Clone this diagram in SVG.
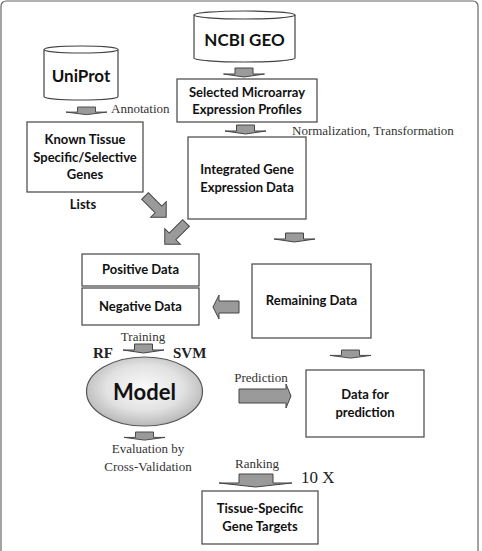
<svg xmlns="http://www.w3.org/2000/svg" width="482" height="551" viewBox="0 0 482 551">
<style>
.box{fill:#fff;stroke:#444;stroke-width:1.2}
.cyl{fill:#fff;stroke:#444;stroke-width:1.2}
.bt{font-family:Lato,"Liberation Sans",sans-serif;font-weight:bold;font-size:13px;fill:#111;text-anchor:middle}
.sl{font-family:"Liberation Serif",serif;font-size:13px;fill:#333}
.arr{fill:#9a9a9a;stroke:#444;stroke-width:1}
</style>
<defs>
<path id="dn" d="M-9,0 H9 V6 H20.5 L0,9 L-20.5,6 H-9 Z"/>
<radialGradient id="mg" cx="50%" cy="45%" r="55%">
<stop offset="0" stop-color="#fafafa"/>
<stop offset="0.6" stop-color="#e2e2e2"/>
<stop offset="1" stop-color="#b8b8b8"/>
</radialGradient>
</defs>
<rect x="1" y="1" width="477" height="570" rx="5" fill="#fff" stroke="#666" stroke-width="1.2"/>

<g id="ncbi">
<path class="cyl" d="M194,15 V58 A50.5,4 0 0 0 295,58 V15"/>
<ellipse class="cyl" cx="244.5" cy="15" rx="50.5" ry="4"/>
<text class="bt" x="244.5" y="46" style="font-size:17px">NCBI GEO</text>
</g>
<g id="uniprot">
<path class="cyl" d="M44,49.5 V96.5 A37,3.5 0 0 0 118,96.5 V49.5"/>
<ellipse class="cyl" cx="81" cy="49.5" rx="37" ry="3.5"/>
<text class="bt" x="81" y="82" style="font-size:17px">UniProt</text>
</g>
<g id="selected">
<rect class="box" x="177" y="79" width="140" height="43"/>
<text class="bt" x="247" y="97">Selected Microarray</text>
<text class="bt" x="247" y="114">Expression Profiles</text>
</g>
<g id="known">
<rect class="box" x="27" y="122" width="116" height="70"/>
<text class="bt" x="85" y="144">Known Tissue</text>
<text class="bt" x="85" y="162">Specific/Selective</text>
<text class="bt" x="85" y="179">Genes</text>
</g>
<g id="integrated">
<rect class="box" x="188" y="137" width="118" height="82"/>
<text class="bt" x="247" y="174">Integrated Gene</text>
<text class="bt" x="247" y="192">Expression Data</text>
</g>
<g id="positive">
<rect class="box" x="82" y="254" width="117" height="32"/>
<text class="bt" x="140.5" y="274">Positive Data</text>
</g>
<g id="negative">
<rect class="box" x="82" y="288" width="117" height="37"/>
<text class="bt" x="140.5" y="311">Negative Data</text>
</g>
<g id="remaining">
<rect class="box" x="252" y="264" width="119" height="74"/>
<text class="bt" x="311.5" y="305">Remaining Data</text>
</g>
<g id="model">
<ellipse cx="144.5" cy="391.5" rx="58" ry="34.5" fill="url(#mg)" stroke="#555" stroke-width="1.2"/>
<text class="bt" x="144.5" y="400" style="font-size:22px">Model</text>
</g>
<g id="dataforprediction">
<rect class="box" x="306" y="370" width="118" height="67"/>
<text class="bt" x="365" y="399">Data for</text>
<text class="bt" x="365" y="417">prediction</text>
</g>
<g id="targets">
<rect class="box" x="202" y="491" width="116" height="53"/>
<text class="bt" x="260" y="513">Tissue-Specific</text>
<text class="bt" x="260" y="531">Gene Targets</text>
</g>

<g id="connectors">
<use href="#dn" class="arr" transform="translate(244,68)"/>
<use href="#dn" class="arr" transform="translate(86.5,107) scale(1,0.85)"/>
<use href="#dn" class="arr" transform="translate(245.5,125)"/>
<use href="#dn" class="arr" transform="translate(294.5,233)"/>
<use href="#dn" class="arr" transform="translate(143.5,344)"/>
<use href="#dn" class="arr" transform="translate(350.5,350) scale(1,0.9)"/>
<use href="#dn" class="arr" transform="translate(144.5,432) scale(1,0.9)"/>
<path class="arr" d="M239,474 H273 V483 H292 L255.5,487 L219,483 H239 Z"/>
<path class="arr" d="M0,-4.7 H19 V-11 L30,0 L19,11 V4.7 H0 Z" transform="translate(145,196) rotate(45)"/>
<path class="arr" d="M0,-4.7 H19 V-11 L30,0 L19,11 V4.7 H0 Z" transform="translate(186,223) rotate(135)"/>
<path class="arr" d="M239,301 H219 V295 L213,307 L219,319 V313 H239 Z"/>
<path class="arr" d="M239,389 H286 V384 L291,396 L286,408 V403 H239 Z"/>
<text class="sl" x="111" y="113">Annotation</text>
<text class="sl" x="292" y="135">Normalization, Transformation</text>
<text class="bt" x="83" y="209">Lists</text>
<text class="sl" x="143" y="341" text-anchor="middle">Training</text>
<text x="93" y="358" style="font-family:'Liberation Serif',serif;font-weight:bold;font-size:15px;fill:#222">RF</text>
<text x="173" y="358" style="font-family:'Liberation Serif',serif;font-weight:bold;font-size:15px;fill:#222">SVM</text>
<text class="sl" x="261" y="382" text-anchor="middle">Prediction</text>
<text class="sl" x="148" y="453" text-anchor="middle">Evaluation by</text>
<text class="sl" x="148" y="471" text-anchor="middle">Cross-Validation</text>
<text class="sl" x="257" y="468" text-anchor="middle">Ranking</text>
<text x="301" y="483" style="font-family:'Liberation Serif',serif;font-size:17px;fill:#222">10 X</text>
</g>
</svg>
